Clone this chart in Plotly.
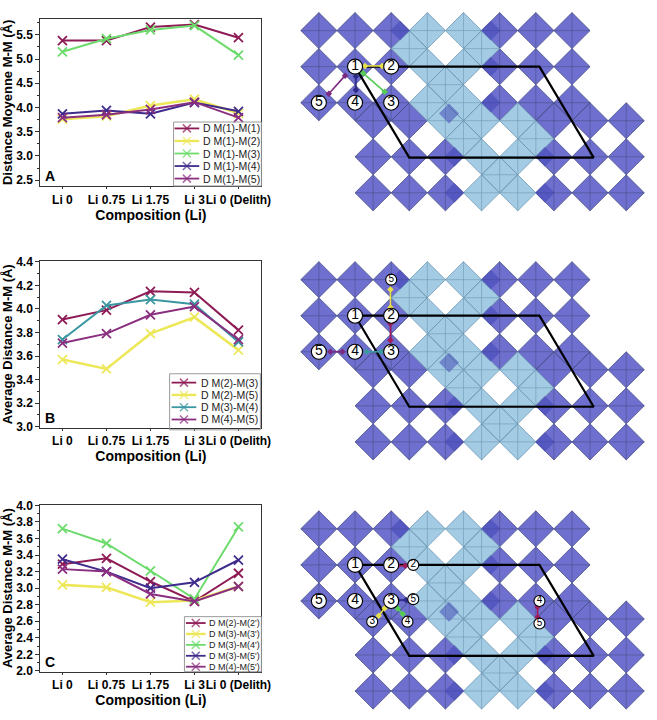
import plotly.graph_objects as go

FONT = "Liberation Sans"

# x categories shared by the three line charts
categories = ["Li 0", "Li 0.75", "Li 1.75", "Li 3", "Li 0 (Delith)"]

# panel A : Distance Moyenne M-M (A)
a_names = ["D M(1)-M(1)", "D M(1)-M(2)", "D M(1)-M(3)", "D M(1)-M(4)", "D M(1)-M(5)"]
a_m1_m1 = [5.38, 5.38, 5.66, 5.71, 5.44]
a_m1_m2 = [3.76, 3.82, 4.04, 4.17, 3.88]
a_m1_m3 = [5.15, 5.42, 5.60, 5.69, 5.08]
a_m1_m4 = [3.87, 3.94, 3.87, 4.10, 3.92]
a_m1_m5 = [3.79, 3.85, 3.96, 4.11, 3.79]

# panel B
b_names = ["D M(2)-M(3)", "D M(2)-M(5)", "D M(3)-M(4)", "D M(4)-M(5)"]
b_m2_m3 = [3.91, 3.99, 4.15, 4.14, 3.82]
b_m2_m5 = [3.57, 3.49, 3.79, 3.93, 3.65]
b_m3_m4 = [3.74, 4.03, 4.08, 4.04, 3.72]
b_m4_m5 = [3.71, 3.79, 3.95, 4.02, 3.74]

# panel C
c_names = ["D M(2)-M(2')", "D M(3)-M(3')", "D M(3)-M(4')", "D M(3)-M(5')", "D M(4)-M(5')"]
c_m2_m2p = [3.29, 3.36, 3.08, 2.84, 3.18]
c_m3_m3p = [3.04, 3.01, 2.83, 2.85, 3.02]
c_m3_m4p = [3.72, 3.54, 3.21, 2.87, 3.74]
c_m3_m5p = [3.35, 3.20, 3.00, 3.07, 3.34]
c_m4_m5p = [3.23, 3.20, 2.93, 2.84, 3.02]

maroon = "#8E1B55"
yellow = "#EDE85A"
green = "#6CDB6C"
indigo = "#3F2B8C"
purple = "#8A2F80"
teal = "#3A96A0"

panels = [
    dict(names=a_names, series=[a_m1_m1, a_m1_m2, a_m1_m3, a_m1_m4, a_m1_m5],
         colors=[maroon, yellow, green, indigo, purple],
         ytitle="Distance Moyenne M-M (Å)", yrange=[2.38, 5.83], dtick=0.5, letter="A",
         ydom=[0.7458, 0.9819]),
    dict(names=b_names, series=[b_m2_m3, b_m2_m5, b_m3_m4, b_m4_m5],
         colors=[maroon, yellow, teal, purple],
         ytitle="Average Distance M-M (Å)", yrange=[2.99, 4.41], dtick=0.2, letter="B",
         ydom=[0.4042, 0.6403]),
    dict(names=c_names, series=[c_m2_m2p, c_m3_m3p, c_m3_m4p, c_m3_m5p, c_m4_m5p],
         colors=[maroon, yellow, green, indigo, purple],
         ytitle="Average Distance M-M (Å)", yrange=[1.99, 4.01], dtick=0.2, letter="C",
         ydom=[0.0597, 0.2958]),
]

# legend boxes drawn on a pixel canvas: box, first row y, row step, sample x0/x1, text x, font size
legend_boxes = [
    dict(box=(176, 118, 265, 183), y0=124.5, dy=12.75, lx=(177, 202), tx=204, fs=10.5),
    dict(box=(172, 374, 264, 431), y0=383.0, dy=12.5, lx=(174, 199), tx=201.5, fs=10.5),
    dict(box=(187, 621, 265, 677), y0=627.5, dy=11.1, lx=(188.5, 208.5), tx=210, fs=9),
]

fig = go.Figure()
layout = {}
annotations = []
shapes = []

for k, p in enumerate(panels):
    xa = "x" if k == 0 else f"x{k + 1}"
    ya = "y" if k == 0 else f"y{k + 1}"
    for name, vals, col in zip(p["names"], p["series"], p["colors"]):
        w = 2.6 if col == yellow else 2
        fig.add_trace(go.Scatter(
            x=categories, y=vals, mode="lines+markers", name=name,
            line=dict(color=col, width=w),
            marker=dict(symbol="x-thin", size=9, color=col, line=dict(width=1.8, color=col)),
            xaxis=xa, yaxis=ya, showlegend=False,
        ))
    layout["xaxis" if k == 0 else f"xaxis{k + 1}"] = dict(
        domain=[0.0624, 0.4033], anchor=ya, type="category", range=[-0.5, 4.52],
        showline=True, mirror=True, linecolor="#333", linewidth=1.3, tickangle=0,
        ticks="outside", ticklen=2, tickcolor="#333", showgrid=False,
        tickfont=dict(family=FONT, size=12, color="black", weight="bold"),
        title=dict(text="Composition (Li)", standoff=0,
                   font=dict(family=FONT, size=14, color="black", weight="bold")),
    )
    layout["yaxis" if k == 0 else f"yaxis{k + 1}"] = dict(
        domain=p["ydom"], anchor=xa, range=p["yrange"], dtick=p["dtick"], tickformat=".1f",
        showline=True, mirror=True, linecolor="#333", linewidth=1.3,
        ticks="outside", ticklen=4, tickcolor="#333", showgrid=False, zeroline=False,
        minor=dict(ticks="outside", ticklen=2, dtick=p["dtick"] / 2, tickcolor="#333"),
        tickfont=dict(family=FONT, size=12, color="black", weight="bold"),
        title=dict(text=p["ytitle"], standoff=3,
                   font=dict(family=FONT, size=13, color="black", weight="bold")),
    )
    annotations.append(dict(
        text=p["letter"], xref=f"{xa} domain", yref=f"{ya} domain", x=0.045, y=0.06,
        xanchor="center", yanchor="middle", showarrow=False,
        font=dict(family=FONT, size=14, color="black", weight="bold"),
    ))

    # legend
    lg = legend_boxes[k]
    bx0, by0, bx1, by1 = lg["box"]
    shapes.append(dict(type="rect", xref="x4", yref="y4", x0=bx0, y0=by0, x1=bx1, y1=by1,
                       line=dict(color="#9a9a9a", width=1), layer="above"))
    for r, (name, col) in enumerate(zip(p["names"], p["colors"])):
        yy = lg["y0"] + r * lg["dy"]
        xm = (lg["lx"][0] + lg["lx"][1]) / 2
        fig.add_trace(go.Scatter(
            x=[lg["lx"][0], xm, lg["lx"][1]], y=[yy, yy, yy], mode="lines+markers",
            line=dict(color=col, width=2.4 if col == yellow else 1.8),
            marker=dict(symbol="x-thin", size=[0, 8, 0], color=col, line=dict(width=1.6, color=col)),
            xaxis="x4", yaxis="y4", showlegend=False, hoverinfo="skip",
        ))
        annotations.append(dict(
            text=name, xref="x4", yref="y4", x=lg["tx"], y=yy, xanchor="left", yanchor="middle",
            showarrow=False, font=dict(family=FONT, size=lg["fs"], color="#222"),
        ))

# ---- crystal structure sketches (right column), in lattice units ----
h = 18.33
sx0 = 323.3
struct_y0 = [25.0, 278.3, 531.7]

upper = [(2 * i, 2 * j, i in (3, 4)) for j in range(3) for i in range(8)]
lower = [(3 + 2 * i, 5 + 2 * j, i in (3, 4) or (i == 2 and j == 0)) for j in range(3) for i in range(8)]
octahedra = upper + lower
# holes of the dark lattice that the lighter back layer covers
light_holes = [(5, 1), (9, 1), (7, 3), (8, 6), (12, 6), (10, 8)]
overlaps = [(4.5, 0), (9.5, 0), (9.5, 2), (9.5, 4), (7.2, 4.6), (7.5, 7), (12.5, 7), (7.5, 9), (12.5, 9)]
cell = [(2, 2), (12.2, 2), (15.2, 7.05), (5, 7.05), (2, 2)]

sites = [
    [(2, 2, "1", 0), (4, 2, "2", 0), (4, 4, "3", 0), (2, 4, "4", 0), (0, 4, "5", 0)],
    [(4, 0, "5", 1), (2, 2, "1", 0), (4, 2, "2", 0), (4, 4, "3", 0), (2, 4, "4", 0), (0, 4, "5", 0)],
    [(2, 2, "1", 0), (4, 2, "2", 0), (5.22, 2, "2", 1), (0, 4, "5", 0), (2, 4, "4", 0),
     (4, 4, "3", 0), (5.22, 3.9, "5", 1), (2.95, 5.15, "3", 1), (4.9, 5.15, "4", 1),
     (12.2, 4.0, "4", 1), (12.2, 5.25, "5", 1)],
]
bonds = [
    [(2.55, 1.96, 3.5, 1.96, "#E8E04A"), (2.45, 2.36, 3.64, 3.4, "#55CC55"),
     (2.05, 2.55, 2.05, 3.3, "#2E2A8A"), (0.55, 3.5, 1.45, 2.5, "#7B2A7F")],
    [(3.96, 0.55, 3.96, 1.55, "#E8E04A"), (3.96, 2.45, 3.96, 3.36, "#A01C5A"),
     (2.64, 4.0, 3.45, 4.0, "#3A9AA0"), (0.64, 4.0, 1.3, 4.0, "#7B2A7F")],
    [(4.36, 2.05, 4.78, 2.05, "#A01C5A"), (4.36, 3.95, 4.82, 3.95, "#2E2A8A"),
     (3.64, 4.4, 3.31, 4.82, "#E8E04A"), (4.36, 4.42, 4.64, 4.73, "#55CC55"),
     (12.1, 4.33, 12.1, 4.9, "#A01C5A")],
]


def diamonds(items, y0, r=1.0):
    xs, ys = [], []
    for u, w in items:
        cx, cy = sx0 + u * h, y0 + w * h
        xs += [cx - r * h, cx, cx + r * h, cx, cx - r * h, None]
        ys += [cy, cy - r * h, cy, cy + r * h, cy, None]
    return xs, ys


def crosses(items, y0):
    xs, ys = [], []
    for u, w in items:
        cx, cy = sx0 + u * h, y0 + w * h
        xs += [cx - h, cx + h, None, cx, cx, None]
        ys += [cy, cy, None, cy - h, cy + h, None]
    return xs, ys


for k, y0 in enumerate(struct_y0):
    dark = [(u, w) for u, w, light in octahedra if not light]
    light = [(u, w) for u, w, lt in octahedra if lt] + light_holes
    for group, fillc, edge in [(dark, "#6E6FCF", "#4A5088"), (light, "#A3CBE3", "#6F98B5")]:
        xs, ys = diamonds(group, y0)
        fig.add_trace(go.Scatter(x=xs, y=ys, mode="lines", fill="toself", fillcolor=fillc,
                                 line=dict(color=edge, width=0.8), xaxis="x4", yaxis="y4",
                                 showlegend=False, hoverinfo="skip"))
        xs, ys = crosses(group, y0)
        fig.add_trace(go.Scatter(x=xs, y=ys, mode="lines", line=dict(color=edge, width=0.6),
                                 xaxis="x4", yaxis="y4", showlegend=False, hoverinfo="skip"))
    xs, ys = diamonds(overlaps, y0, r=0.55)
    fig.add_trace(go.Scatter(x=xs, y=ys, mode="lines", fill="toself", fillcolor="rgba(60,66,180,0.5)",
                             line=dict(width=0), xaxis="x4", yaxis="y4", showlegend=False, hoverinfo="skip"))
    # unit cell
    fig.add_trace(go.Scatter(x=[sx0 + u * h for u, w in cell], y=[y0 + w * h for u, w in cell],
                             mode="lines", line=dict(color="black", width=2.2),
                             xaxis="x4", yaxis="y4", showlegend=False, hoverinfo="skip"))
    # bonds between sites
    for u1, w1, u2, w2, col in bonds[k]:
        fig.add_trace(go.Scatter(x=[sx0 + u1 * h, sx0 + u2 * h], y=[y0 + w1 * h, y0 + w2 * h],
                                 mode="lines+markers", line=dict(color=col, width=1.6),
                                 marker=dict(symbol="diamond", size=5, color=col),
                                 xaxis="x4", yaxis="y4", showlegend=False, hoverinfo="skip"))
    # numbered sites
    for small in (0, 1):
        pts = [s for s in sites[k] if s[3] == small]
        if not pts:
            continue
        fig.add_trace(go.Scatter(
            x=[sx0 + s[0] * h for s in pts], y=[y0 + s[1] * h for s in pts],
            mode="markers+text", text=[s[2] for s in pts], textposition="middle center",
            textfont=dict(family=FONT, size=10 if small else 14, color="black"),
            marker=dict(size=11 if small else 15, color="white", line=dict(color="black", width=1.1)),
            xaxis="x4", yaxis="y4", showlegend=False, hoverinfo="skip",
        ))

layout["xaxis4"] = dict(domain=[0, 1], anchor="y4", range=[0, 657], visible=False, fixedrange=True)
layout["yaxis4"] = dict(domain=[0, 1], anchor="x4", range=[720, 0], visible=False, fixedrange=True)

fig.update_layout(
    width=657, height=720, margin=dict(l=0, r=0, t=0, b=0),
    paper_bgcolor="white", plot_bgcolor="rgba(0,0,0,0)",
    showlegend=False, annotations=annotations, shapes=shapes,
    font=dict(family=FONT, color="black"),
    **layout,
)

# the page's default body margin would push the 657x720 figure off the window
fig.write_html("out.html", config={"displayModeBar": False},
               post_script="document.body.style.margin = '0';")
